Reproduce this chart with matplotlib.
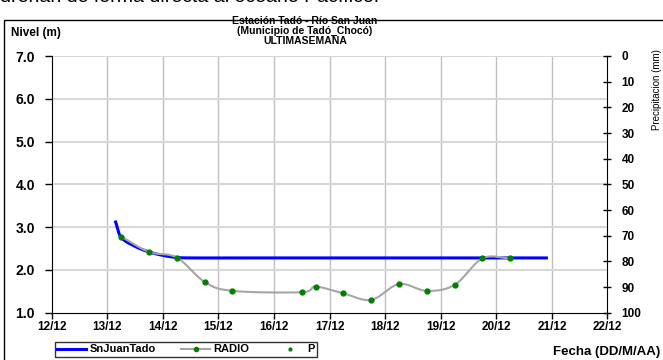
import numpy as np
import matplotlib
matplotlib.use('Agg')
import matplotlib.pyplot as plt
from matplotlib.patches import Rectangle
from matplotlib.lines import Line2D

plt.rcParams['font.family'] = ['Liberation Sans', 'DejaVu Sans']

# data (day of December, level in m)
nivel_dias = [13.15, 13.25, 13.5, 13.75, 14.0, 14.25, 14.5, 15.0, 16.0, 17.0, 18.0, 19.0, 20.0, 20.9]
nivel_m = [3.12, 2.76, 2.55, 2.42, 2.34, 2.29, 2.28, 2.28, 2.28, 2.28, 2.28, 2.28, 2.28, 2.28]

radio_dias = [13.25, 13.75, 14.25, 14.75, 15.25, 16.5, 16.75, 17.25, 17.75, 18.25, 18.75, 19.25, 19.75, 20.25]
radio_m = [2.78, 2.42, 2.29, 1.72, 1.51, 1.48, 1.61, 1.45, 1.30, 1.67, 1.51, 1.65, 2.27, 2.27]

fecha_ticks = list(range(12, 23))
fecha_labels = ['%d/12' % d for d in fecha_ticks]
nivel_ticks = [1.0, 2.0, 3.0, 4.0, 5.0, 6.0, 7.0]
precip_ticks = list(range(0, 101, 10))


def smooth(x, y, n=20):
    # catmull-rom style curve through the points (like excel smoothed lines)
    x = np.asarray(x, float)
    y = np.asarray(y, float)
    px = np.concatenate([[2 * x[0] - x[1]], x, [2 * x[-1] - x[-2]]])
    py = np.concatenate([[2 * y[0] - y[1]], y, [2 * y[-1] - y[-2]]])
    ox, oy = [], []
    t = np.linspace(0, 1, n, endpoint=False)
    for i in range(1, len(px) - 2):
        for arr, out in ((px, ox), (py, oy)):
            p0, p1, p2, p3 = arr[i - 1], arr[i], arr[i + 1], arr[i + 2]
            out.extend(0.5 * ((2 * p1) + (-p0 + p2) * t + (2 * p0 - 5 * p1 + 4 * p2 - p3) * t ** 2
                              + (-p0 + 3 * p1 - 3 * p2 + p3) * t ** 3))
    ox.append(x[-1])
    oy.append(y[-1])
    return np.array(ox), np.array(oy)


fig = plt.figure(figsize=(6.63, 3.6), dpi=100)

# outer frame and cut-off text above
fig.patches.append(Rectangle((4 / 663, -0.1), 1.2, (350 - 10) / 360 + 0.1,
                             transform=fig.transFigure, fill=False, edgecolor='black', lw=1.0))
fig.text(0.0, 1.0 + 2 / 360, 'drenan de forma directa al océano Pacífico.', fontsize=14,
         va='center', ha='left')

ax = fig.add_axes([51.7 / 663, 47.3 / 360, (607.5 - 51.7) / 663, (312.7 - 56) / 360])
ax.set_xlim(12, 22)
ax.set_ylim(1.0, 7.0)

for d in fecha_ticks[1:-1]:
    ax.axvline(d, color='#c0c0c0', lw=1.0, zorder=0)
for v in nivel_ticks[1:]:
    ax.axhline(v, color='#d8d8d8', lw=1.5, zorder=0)

sx, sy = smooth(radio_dias, radio_m)
ax.plot(sx, sy, color='#a6a6a6', lw=1.5, zorder=2)
ax.plot(radio_dias, radio_m, 'o', color='#008000', ms=3.5, zorder=3)

bx, by = smooth(nivel_dias, nivel_m)
ax.plot(bx, by, color='#0000ff', lw=2.2, zorder=1)

ax.set_xticks(fecha_ticks)
ax.set_xticklabels(fecha_labels, fontsize=8.5, fontweight='bold')
ax.set_yticks(nivel_ticks)
ax.set_yticklabels(['%.1f' % v for v in nivel_ticks], fontsize=10, fontweight='bold')
ax.tick_params(axis='x', length=4, width=1, direction='out', pad=2)
ax.tick_params(axis='y', length=5, width=1, direction='out', pad=7)
ax.spines['top'].set_visible(False)
ax.spines['right'].set_visible(False)

ax2 = ax.twinx()
ax2.set_ylim(100, 0)
ax2.set_yticks(precip_ticks)
ax2.set_yticklabels([str(v) for v in precip_ticks], fontsize=8.5, fontweight='bold')
ax2.tick_params(axis='y', length=6, width=1, direction='inout', pad=7)
ax2.spines['top'].set_visible(False)
ax2.spines['left'].set_visible(False)
ax2.spines['bottom'].set_visible(False)

# titles and labels
fig.text(305 / 663, 1 - 16 / 360, 'Estación Tadó - Río San Juan\n(Municipio de Tadó_Chocó)\nULTIMASEMANA',
         ha='center', va='top', fontsize=7.5, fontweight='bold', linespacing=1.0)
fig.text(11 / 663, 1 - 33 / 360, 'Nivel (m)', ha='left', va='center', fontsize=8.5, fontweight='bold')
fig.text(657 / 663, 1 - 90 / 360, 'Precipitacion (mm)', rotation=90, ha='center', va='center',
         fontsize=7)
fig.text(553 / 663, 1 - 352 / 360, 'Fecha (DD/M/AA)', ha='left', va='center', fontsize=9.5,
         fontweight='bold')

handles = [Line2D([], [], color='#0000ff', lw=2.2),
           Line2D([], [], color='#a6a6a6', lw=1.5, marker='o', ms=3, mfc='#008000', mec='#008000'),
           Line2D([], [], ls='none', marker='o', ms=2, color='#008000')]
leg = fig.legend(handles, ['SnJuanTado', 'RADIO', 'P'], loc='center',
                 bbox_to_anchor=(186 / 663, 1 - 349.5 / 360), ncol=3,
                 prop={'weight': 'bold', 'size': 8}, frameon=True, fancybox=False,
                 edgecolor='black', handlelength=2.6, columnspacing=2.3, borderpad=0.25,
                 handletextpad=0.3, borderaxespad=0)
leg.get_frame().set_linewidth(1.0)

fig.savefig('out.png', dpi=100)
